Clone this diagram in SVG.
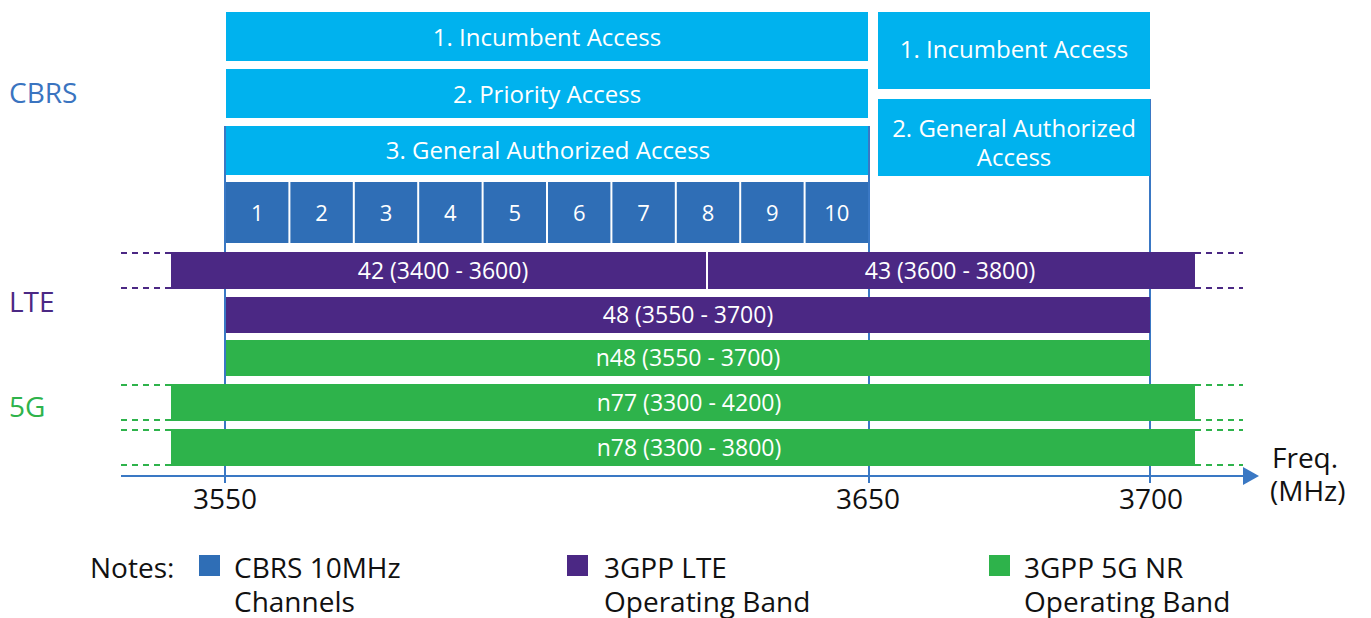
<svg xmlns="http://www.w3.org/2000/svg" width="1371" height="618" viewBox="0 0 1371 618">
  <defs>
    <style>
      text { font-family: "Open Sans", "Noto Sans", sans-serif; }
      .cbrs { fill: #00b2ee; }
      .ch { fill: #2f6eb6; }
      .lte { fill: #4b2884; }
      .nr { fill: #2eb34b; }
      .in { fill: #ffffff; font-size: 24px; text-anchor: middle; }
      .chn { fill: #ffffff; font-size: 22px; text-anchor: middle; }
      .band { fill: #ffffff; font-size: 23px; text-anchor: middle; }
      .grid { stroke: #3a78c4; stroke-width: 2; fill: none; }
      .dashp { stroke: #4b2884; stroke-width: 2.2; stroke-dasharray: 6 5; fill: none; }
      .dashg { stroke: #2eb34b; stroke-width: 2.2; stroke-dasharray: 6 5; fill: none; }
      .tick { fill: #111111; font-size: 28px; text-anchor: middle; }
      .note { fill: #111111; font-size: 28px; }
      .tech { font-size: 28px; }
    </style>
    <marker id="arrow" viewBox="0 0 16 18" refX="0" refY="9" markerWidth="16" markerHeight="18" markerUnits="userSpaceOnUse" orient="auto">
      <path d="M0,0 L16,9 L0,18 Z" fill="#3a78c4"/>
    </marker>
  </defs>

  <!-- technology labels -->
  <g id="labels">
    <text class="tech" x="9" y="103" fill="#3a74c0">CBRS</text>
    <text class="tech" x="9" y="312" fill="#4b2884">LTE</text>
    <text class="tech" x="9" y="417" fill="#2eb34b">5G</text>
  </g>

  <!-- frequency grid lines and axis -->
  <g id="connectors">
    <line class="grid" x1="225" y1="126" x2="225" y2="483"/>
    <line class="grid" x1="869" y1="126" x2="869" y2="483"/>
    <line class="grid" x1="1150" y1="99" x2="1150" y2="483"/>
    <line class="grid" x1="121" y1="476" x2="1243" y2="476" marker-end="url(#arrow)"/>
    <!-- band extensions beyond the plotted range -->
    <line class="dashp" x1="121" y1="253" x2="171" y2="253"/>
    <line class="dashp" x1="121" y1="288" x2="171" y2="288"/>
    <line class="dashp" x1="1195" y1="253" x2="1243" y2="253"/>
    <line class="dashp" x1="1195" y1="288" x2="1243" y2="288"/>
    <line class="dashg" x1="121" y1="385" x2="171" y2="385"/>
    <line class="dashg" x1="121" y1="420" x2="171" y2="420"/>
    <line class="dashg" x1="121" y1="430" x2="171" y2="430"/>
    <line class="dashg" x1="121" y1="465" x2="171" y2="465"/>
    <line class="dashg" x1="1195" y1="385" x2="1243" y2="385"/>
    <line class="dashg" x1="1195" y1="420" x2="1243" y2="420"/>
    <line class="dashg" x1="1195" y1="430" x2="1243" y2="430"/>
    <line class="dashg" x1="1195" y1="465" x2="1243" y2="465"/>
  </g>

  <!-- CBRS access tiers, 3550-3650 -->
  <g id="tier-incumbent">
    <rect class="cbrs" x="226" y="12" width="642" height="49"/>
    <text class="in" x="547" y="46">1. Incumbent Access</text>
  </g>
  <g id="tier-priority">
    <rect class="cbrs" x="226" y="69" width="642" height="49"/>
    <text class="in" x="547" y="103">2. Priority Access</text>
  </g>
  <g id="tier-gaa">
    <rect class="cbrs" x="226" y="126" width="642" height="49"/>
    <text class="in" x="548" y="159">3. General Authorized Access</text>
  </g>

  <!-- CBRS access tiers, 3650-3700 -->
  <g id="tier-incumbent-upper">
    <rect class="cbrs" x="878" y="12" width="272" height="77"/>
    <text class="in" x="1014" y="58">1. Incumbent Access</text>
  </g>
  <g id="tier-gaa-upper">
    <rect class="cbrs" x="878" y="99" width="272" height="77"/>
    <text class="in" x="1014" y="137">2. General Authorized</text>
    <text class="in" x="1014" y="166">Access</text>
  </g>

  <!-- CBRS 10 MHz channels -->
  <g id="channels">
    <rect class="ch" x="226" y="182" width="62.4" height="61"/>
    <rect class="ch" x="290.4" y="182" width="62.4" height="61"/>
    <rect class="ch" x="354.8" y="182" width="62.4" height="61"/>
    <rect class="ch" x="419.2" y="182" width="62.4" height="61"/>
    <rect class="ch" x="483.6" y="182" width="62.4" height="61"/>
    <rect class="ch" x="548" y="182" width="62.4" height="61"/>
    <rect class="ch" x="612.4" y="182" width="62.4" height="61"/>
    <rect class="ch" x="676.8" y="182" width="62.4" height="61"/>
    <rect class="ch" x="741.2" y="182" width="62.4" height="61"/>
    <rect class="ch" x="805.6" y="182" width="62.4" height="61"/>
    <text class="chn" x="257.2" y="221">1</text>
    <text class="chn" x="321.6" y="221">2</text>
    <text class="chn" x="386" y="221">3</text>
    <text class="chn" x="450.4" y="221">4</text>
    <text class="chn" x="514.8" y="221">5</text>
    <text class="chn" x="579.2" y="221">6</text>
    <text class="chn" x="643.6" y="221">7</text>
    <text class="chn" x="708" y="221">8</text>
    <text class="chn" x="772.4" y="221">9</text>
    <text class="chn" x="836.8" y="221">10</text>
  </g>

  <!-- LTE operating bands -->
  <g id="band-42">
    <rect class="lte" x="171" y="252" width="535" height="37"/>
    <text class="band" x="443" y="279">42 (3400 - 3600)</text>
  </g>
  <g id="band-43">
    <rect class="lte" x="708" y="252" width="487" height="37"/>
    <text class="band" x="950" y="279">43 (3600 - 3800)</text>
  </g>
  <g id="band-48">
    <rect class="lte" x="226" y="297" width="924" height="36"/>
    <text class="band" x="688" y="323">48 (3550 - 3700)</text>
  </g>

  <!-- 5G NR operating bands -->
  <g id="band-n48">
    <rect class="nr" x="226" y="340" width="924" height="36"/>
    <text class="band" x="688" y="366">n48 (3550 - 3700)</text>
  </g>
  <g id="band-n77">
    <rect class="nr" x="171" y="384" width="1024" height="37"/>
    <text class="band" x="689" y="411">n77 (3300 - 4200)</text>
  </g>
  <g id="band-n78">
    <rect class="nr" x="171" y="429" width="1024" height="37"/>
    <text class="band" x="689" y="456">n78 (3300 - 3800)</text>
  </g>

  <!-- axis tick labels -->
  <g id="axis-labels">
    <text class="tick" x="225" y="509">3550</text>
    <text class="tick" x="868" y="509">3650</text>
    <text class="tick" x="1151" y="509">3700</text>
    <text class="note" x="1272" y="468">Freq.</text>
    <text class="note" x="1270" y="501">(MHz)</text>
  </g>

  <!-- legend -->
  <g id="legend">
    <text class="note" x="90" y="578">Notes:</text>
    <rect class="ch" x="199" y="555" width="21" height="21"/>
    <text class="note" x="234" y="578">CBRS 10MHz</text>
    <text class="note" x="234" y="612">Channels</text>
    <rect class="lte" x="567" y="555" width="21" height="21"/>
    <text class="note" x="604" y="578">3GPP LTE</text>
    <text class="note" x="604" y="612">Operating Band</text>
    <rect class="nr" x="989" y="555" width="21" height="21"/>
    <text class="note" x="1024" y="578">3GPP 5G NR</text>
    <text class="note" x="1024" y="612">Operating Band</text>
  </g>
</svg>
